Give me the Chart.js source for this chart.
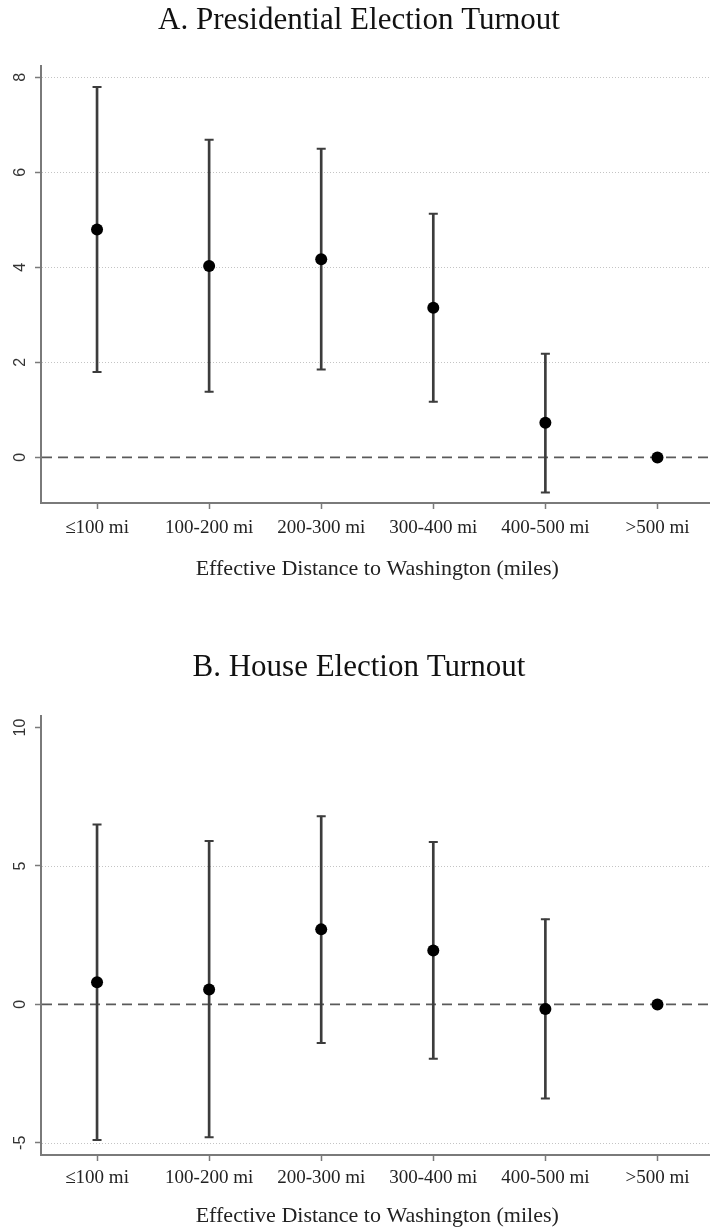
<!DOCTYPE html>
<html>
<head>
<meta charset="utf-8">
<script src="https://cdn.jsdelivr.net/npm/chart.js@4/dist/chart.umd.min.js"></script>
<style>
  html, body { margin: 0; padding: 0; background: #fff; overflow: hidden; }
  #wrap { position: relative; width: 710px; height: 1230px; overflow: hidden; }
  canvas { position: absolute; left: 0; }
  #chartA { top: 0; }
  #chartB { top: 620px; }
</style>
</head>
<body>
<div id="wrap">
  <canvas id="chartA" width="720" height="610"></canvas>
  <canvas id="chartB" width="720" height="610"></canvas>
</div>
<script>
  // categories shared by both panels
  const distanceBins = ["\u2264100 mi", "100-200 mi", "200-300 mi", "300-400 mi", "400-500 mi", ">500 mi"];
  const xAxisTitle = "Effective Distance to Washington (miles)";

  // A. presidential turnout: point estimates and 95% CI
  const presEstimate = [4.80, 4.03, 4.17, 3.15, 0.73, 0];
  const presUpper    = [7.80, 6.69, 6.50, 5.13, 2.18, null];
  const presLower    = [1.80, 1.38, 1.85, 1.17, -0.74, null];
  const presTicks    = [0, 2, 4, 6, 8];
  const presGrid     = [2, 4, 6, 8];

  // B. house turnout
  const houseEstimate = [0.80, 0.54, 2.71, 1.95, -0.17, 0];
  const houseUpper    = [6.50, 5.90, 6.80, 5.87, 3.08, null];
  const houseLower    = [-4.90, -4.80, -1.39, -1.96, -3.40, null];
  const houseTicks    = [-5, 0, 5, 10];
  const houseGrid     = [-5, 5];

  const AXIS_GRAY = "#7a7a7a";
  const BAR_GRAY  = "#3c3c3c";

  /* dotted grid, dashed zero line, rotated y labels (stata look) */
  const stataLines = {
    id: "stataLines",
    beforeDatasetsDraw(chart, args, opts) {
      const { ctx, chartArea } = chart;
      const y = chart.scales.y;
      ctx.save();
      ctx.lineWidth = 1;
      ctx.strokeStyle = "#c4c4c4";
      ctx.setLineDash([1, 2]);
      opts.grid.forEach(v => {
        const py = Math.round(y.getPixelForValue(v)) + 0.5;
        ctx.beginPath();
        ctx.moveTo(chartArea.left + 1, py);
        ctx.lineTo(chartArea.right, py);
        ctx.stroke();
      });
      ctx.lineWidth = 1.6;
      ctx.strokeStyle = "#5a5a5a";
      ctx.setLineDash([10, 6]);
      const pz = y.getPixelForValue(0);
      ctx.beginPath();
      ctx.moveTo(chartArea.left + 1, pz);
      ctx.lineTo(chartArea.right, pz);
      ctx.stroke();
      ctx.restore();
    },
    afterDraw(chart) {
      const { ctx } = chart;
      const y = chart.scales.y;
      ctx.save();
      ctx.fillStyle = "#333";
      ctx.font = "16px 'Liberation Sans', Arial, sans-serif";
      ctx.textAlign = "center";
      ctx.textBaseline = "middle";
      y.ticks.forEach(t => {
        ctx.save();
        ctx.translate(21, y.getPixelForValue(t.value));
        ctx.rotate(-Math.PI / 2);
        ctx.fillText(String(t.value), 0, 0);
        ctx.restore();
      });
      ctx.restore();
    }
  };

  function makePanel(canvasId, cfg) {
    const ctx = document.getElementById(canvasId).getContext("2d");

    return new Chart(ctx, {
      type: "bar",
      data: {
        labels: distanceBins,
        datasets: [
          {
            type: "line",
            label: "estimate",
            data: cfg.est,
            showLine: false,
            pointRadius: 6,
            pointBackgroundColor: "#000",
            pointBorderWidth: 0,
            order: 0
          },
          {
            type: "line",
            label: "upper",
            data: cfg.hi,
            showLine: false,
            pointStyle: "line",
            pointRadius: 4.5,
            pointBorderColor: BAR_GRAY,
            pointBorderWidth: 2,
            order: 1
          },
          {
            type: "line",
            label: "lower",
            data: cfg.lo,
            showLine: false,
            pointStyle: "line",
            pointRadius: 4.5,
            pointBorderColor: BAR_GRAY,
            pointBorderWidth: 2,
            order: 1
          },
          {
            type: "bar",
            label: "ci",
            data: cfg.lo.map((l, i) => (l == null ? null : [l, cfg.hi[i]])),
            barThickness: 2,
            backgroundColor: BAR_GRAY,
            borderWidth: 0,
            order: 2
          }
        ]
      },
      options: {
        responsive: false,
        animation: false,
        events: [],
        layout: { padding: { left: 0, right: 2, top: 0, bottom: 0 } },
        plugins: {
          legend: { display: false },
          tooltip: { enabled: false },
          title: {
            display: true,
            text: cfg.title,
            color: "#111",
            font: { family: "'Liberation Serif', 'Times New Roman', serif", size: 31, weight: "normal" },
            padding: { top: cfg.titleTop, bottom: cfg.titleBottom }
          },
          stataLines: { grid: cfg.grid }
        },
        scales: {
          x: {
            type: "category",
            offset: true,
            afterFit(s) { s.height = cfg.xHeight; },
            grid: {
              offset: false,
              drawOnChartArea: false,
              drawTicks: true,
              tickLength: 6,
              tickColor: AXIS_GRAY,
              tickWidth: 1.5
            },
            border: { display: true, color: AXIS_GRAY, width: 2 },
            ticks: {
              color: "#222",
              padding: cfg.labelPad,
              maxRotation: 0,
              autoSkip: false,
              font: { family: "'Liberation Serif', 'Times New Roman', serif", size: 19 }
            },
            title: {
              display: true,
              text: xAxisTitle,
              color: "#222",
              font: { family: "'Liberation Serif', 'Times New Roman', serif", size: 22 },
              padding: { top: 0, bottom: cfg.xTitlePad }
            }
          },
          y: {
            min: cfg.min,
            max: cfg.max,
            afterFit(s) { s.width = 41; },
            afterBuildTicks(s) { s.ticks = cfg.ticks.map(v => ({ value: v })); },
            grid: {
              drawOnChartArea: false,
              drawTicks: true,
              tickLength: 6,
              tickColor: AXIS_GRAY,
              tickWidth: 1.5
            },
            border: { display: true, color: AXIS_GRAY, width: 2 },
            ticks: { display: false }
          }
        }
      },
      plugins: [stataLines]
    });
  }

  makePanel("chartA", {
    title: "A. Presidential Election Turnout",
    est: presEstimate, hi: presUpper, lo: presLower,
    ticks: presTicks, grid: presGrid,
    min: -0.96, max: 8.24,
    titleTop: 2, titleBottom: 26.8,
    xHeight: 107, labelPad: 8, xTitlePad: 28
  });

  makePanel("chartB", {
    title: "B. House Election Turnout",
    est: houseEstimate, hi: houseUpper, lo: houseLower,
    ticks: houseTicks, grid: houseGrid,
    min: -5.44, max: 10.41,
    titleTop: 29, titleBottom: 30,
    xHeight: 75, labelPad: 6, xTitlePad: 1
  });
</script>
</body>
</html>
